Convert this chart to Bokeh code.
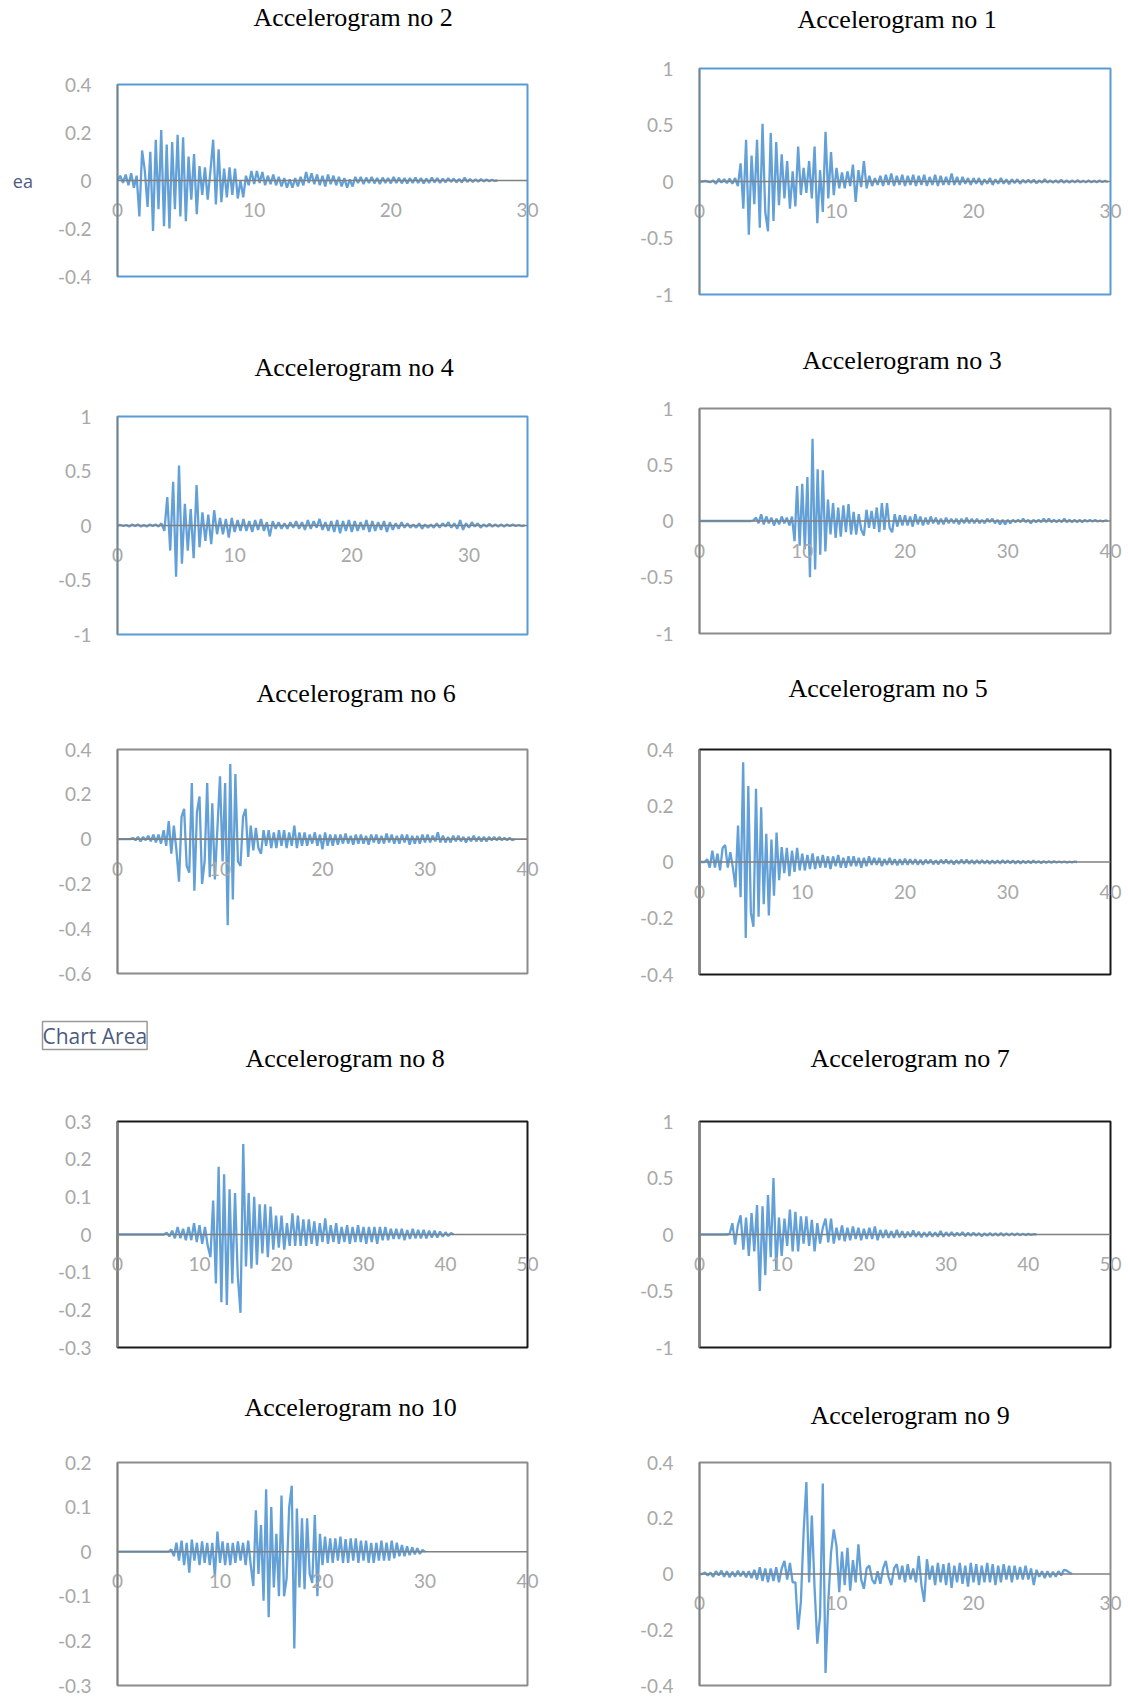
import numpy as np
from bokeh.plotting import figure
from bokeh.layouts import column, row
from bokeh.models import Range1d, FixedTicker, CustomJSTickFormatter, Span, Title
from bokeh.embed import file_html
from bokeh.resources import INLINE

# ---------------- data (acceleration in g, sampled every dt seconds) ----------------
dt_no2 = 0.2
acc_no2 = [0.0, 0.02, -0.01, 0.025, -0.02,
           0.03, -0.03, 0.02, -0.15, 0.125,
           0.04, -0.11, 0.12, -0.21, 0.17,
           -0.12, 0.21, -0.19, 0.15, -0.2,
           0.16, -0.12, 0.19, -0.15, 0.18,
           -0.17, 0.10, -0.08, 0.11, -0.14,
           0.06, -0.06, 0.055, -0.08, 0.04,
           0.17, -0.1, 0.13, -0.09, 0.05,
           -0.07, 0.055, -0.06, 0.05, -0.075,
           0.0, -0.07, 0.02, -0.02, 0.04,
           -0.015, 0.04, -0.01, 0.035, -0.02,
           0.02, -0.015, 0.025, -0.02, 0.015,
           -0.025, 0.01, -0.03, 0.005, -0.03,
           0.01, -0.025, 0.015, -0.02, 0.035,
           -0.01, 0.03, -0.015, 0.025, -0.02,
           0.02, -0.025, 0.025, -0.015, 0.02,
           -0.02, 0.015, -0.025, 0.01, -0.03,
           0.005, -0.025, 0.015, -0.01, 0.015,
           -0.015, 0.012, -0.01, 0.015, -0.012,
           0.01, -0.015, 0.012, -0.01, 0.01,
           -0.012, 0.015, -0.01, 0.012, -0.012,
           0.01, -0.012, 0.01, -0.01, 0.012,
           -0.01, 0.01, -0.012, 0.008, -0.01,
           0.012, -0.008, 0.01, -0.01, 0.008,
           -0.008, 0.01, -0.006, 0.008, -0.008,
           0.006, -0.008, 0.012, -0.006, 0.006,
           -0.006, 0.005, -0.005, 0.006, -0.004,
           0.004, -0.003, 0.003, -0.002, 0.0]

dt_no1 = 0.2
acc_no1 = [0.0, 0.0, 0.005, 0.0, -0.005,
           0.01, -0.02, 0.025, -0.01, 0.02,
           -0.015, 0.025, -0.02, 0.03, -0.04,
           0.16, -0.24, 0.37, -0.47, 0.23,
           -0.2, 0.37, -0.41, 0.51, -0.27,
           -0.44, 0.43, -0.35, 0.35, -0.21,
           0.24, -0.15, 0.18, -0.24, 0.09,
           -0.22, 0.31, -0.12, 0.12, -0.1,
           0.18, -0.15, 0.31, -0.37, 0.1,
           -0.27, 0.44, -0.15, 0.26, -0.12,
           0.12, -0.06, 0.08, -0.06, 0.09,
           -0.04, 0.15, -0.18, 0.1, -0.05,
           0.18, -0.06, 0.05, -0.04, 0.03,
           -0.03, 0.05, -0.04, 0.06, -0.03,
           0.07, -0.04, 0.05, -0.03, 0.06,
           -0.04, 0.05, -0.03, 0.06, -0.04,
           0.05, -0.03, 0.06, -0.04, 0.04,
           -0.03, 0.06, -0.04, 0.05, -0.03,
           0.04, -0.03, 0.07, -0.03, 0.04,
           -0.03, 0.04, -0.02, 0.03, -0.03,
           0.03, -0.02, 0.03, -0.03, 0.02,
           -0.02, 0.03, -0.03, 0.02, -0.02,
           0.03, -0.02, 0.02, -0.025, 0.02,
           -0.015, 0.02, -0.02, 0.015, -0.01,
           0.015, -0.01, 0.015, -0.015, 0.01,
           -0.01, 0.02, -0.01, 0.01, -0.01,
           0.01, -0.01, 0.015, -0.01, 0.01,
           -0.01, 0.01, -0.008, 0.012, -0.008,
           0.008, -0.008, 0.01, -0.006, 0.006,
           -0.006, 0.008, -0.005, 0.006, -0.004]

dt_no4 = 0.25
acc_no4 = [0.0, 0.005, -0.005, 0.005,
           -0.01, 0.01, -0.005, 0.01,
           -0.01, 0.005, -0.01, 0.01,
           -0.005, 0.01, -0.01, 0.02,
           -0.05, 0.26, -0.23, 0.4,
           -0.47, 0.55, -0.35, 0.2,
           -0.23, 0.15, -0.3, 0.37,
           -0.2, 0.12, -0.14, 0.1,
           -0.17, 0.14, -0.08, 0.07,
           -0.08, 0.06, -0.11, 0.07,
           -0.06, 0.05, -0.05, 0.06,
           -0.05, 0.04, -0.06, 0.05,
           -0.04, 0.06, -0.05, 0.03,
           -0.1, 0.04, -0.03, 0.03,
           -0.03, 0.02, -0.03, 0.03,
           -0.02, 0.04, -0.03, 0.03,
           -0.04, 0.05, -0.03, 0.04,
           -0.02, 0.06, -0.04, 0.03,
           -0.05, 0.04, -0.06, 0.05,
           -0.07, 0.04, -0.05, 0.05,
           -0.06, 0.04, -0.05, 0.03,
           -0.04, 0.05, -0.06, 0.04,
           -0.05, 0.03, -0.04, 0.04,
           -0.06, 0.03, -0.04, 0.02,
           -0.03, 0.03, -0.02, 0.02,
           -0.02, 0.01, -0.02, 0.02,
           -0.03, 0.01, -0.02, 0.01,
           -0.02, 0.02, -0.02, 0.02,
           -0.01, 0.03, -0.02, 0.02,
           -0.03, 0.05, -0.04, 0.02,
           -0.02, 0.03, -0.01, 0.02,
           -0.02, 0.01, -0.01, 0.015,
           -0.01, 0.01, -0.01, 0.01,
           -0.01, 0.01, -0.005, 0.01,
           -0.005, 0.005, -0.005, 0.0]

dt_no3 = 0.25
acc_no3 = [0.0, 0.0, 0.0, 0.0,
           0.0, 0.0, 0.0, 0.0,
           0.0, 0.0, 0.0, 0.0,
           0.0, 0.0, 0.0, 0.0,
           0.0, 0.0, 0.0, 0.0,
           0.0, 0.005, 0.03, -0.02,
           0.06, -0.03, 0.04, -0.02,
           0.03, -0.04, 0.02, -0.03,
           0.04, -0.02, 0.03, -0.04,
           0.04, -0.18, 0.31, -0.22,
           0.33, -0.25, 0.39, -0.5,
           0.73, -0.43, 0.46, -0.3,
           0.45, -0.27, 0.19, -0.12,
           0.16, -0.15, 0.12, -0.14,
           0.14, -0.1, 0.15, -0.12,
           0.08, -0.12, 0.06, -0.08,
           -0.13, 0.1, -0.06, 0.09,
           -0.07, 0.12, -0.1, 0.16,
           -0.08, 0.16, -0.06, -0.1,
           0.06, -0.05, 0.05, -0.04,
           0.05, -0.04, 0.04, -0.05,
           0.06, -0.03, 0.04, -0.04,
           0.03, -0.03, 0.04, -0.02,
           0.03, -0.03, 0.02, -0.03,
           0.03, -0.02, 0.02, -0.02,
           0.02, -0.03, 0.02, -0.02,
           0.03, -0.02, 0.02, -0.02,
           0.02, -0.02, 0.01, -0.02,
           0.02, -0.01, 0.02, -0.02,
           0.01, -0.03, 0.01, -0.03,
           0.01, -0.02, 0.01, -0.01,
           0.01, -0.01, 0.02, -0.01,
           0.01, -0.02, 0.01, -0.01,
           0.01, -0.01, 0.02, -0.01,
           0.02, -0.01, 0.01, -0.01,
           0.01, -0.01, 0.02, -0.01,
           0.01, -0.01, 0.01, -0.01,
           0.01, -0.01, 0.01, -0.005,
           0.01, -0.005, 0.01, -0.005,
           0.005, -0.005, 0.005, 0.0]

dt_no6 = 0.25
acc_no6 = [0.0, 0.0, 0.0, 0.0,
           0.0, 0.0, 0.005, -0.005,
           0.01, -0.01, 0.01, -0.005,
           0.015, -0.01, 0.02, -0.015,
           0.02, -0.02, 0.04, -0.03,
           0.08, -0.065, 0.06, -0.05,
           -0.19, 0.1, 0.135, -0.12,
           -0.15, 0.25, -0.23, 0.12,
           0.19, -0.2, -0.1, 0.25,
           -0.17, 0.16, -0.18, 0.05,
           0.28, -0.1, 0.25, -0.385,
           0.335, -0.27, 0.29, -0.1,
           -0.12, 0.1, 0.135, -0.08,
           0.06, -0.05, 0.05, -0.04,
           -0.065, 0.04, -0.03, 0.04,
           -0.04, 0.03, -0.04, 0.04,
           -0.03, 0.04, -0.04, 0.03,
           -0.03, 0.06, -0.04, 0.03,
           -0.03, 0.03, -0.03, 0.02,
           -0.02, 0.03, -0.03, 0.02,
           -0.045, 0.03, -0.03, 0.02,
           -0.03, 0.02, -0.025, 0.02,
           -0.02, 0.025, -0.02, 0.015,
           -0.025, 0.02, -0.02, 0.02,
           -0.02, 0.015, -0.025, 0.02,
           -0.015, 0.02, -0.02, 0.015,
           -0.02, 0.025, -0.015, 0.02,
           -0.02, 0.015, -0.02, 0.02,
           -0.015, 0.02, -0.025, 0.015,
           -0.02, 0.015, -0.02, 0.02,
           -0.015, 0.02, -0.015, 0.015,
           -0.01, 0.03, -0.015, 0.015,
           -0.015, 0.01, -0.015, 0.015,
           -0.01, 0.015, -0.01, 0.01,
           -0.015, 0.01, -0.01, 0.015,
           -0.01, 0.01, -0.01, 0.01,
           -0.01, 0.01, -0.005, 0.01,
           -0.005, 0.01, -0.005, 0.005,
           -0.005, 0.005, -0.005, 0.0]

dt_no5 = 0.25
acc_no5 = [0.0, 0.0, 0.0, 0.01,
           -0.02, 0.04, -0.02, 0.03,
           -0.03, 0.05, 0.06, -0.02,
           0.035, -0.02, -0.09, 0.13,
           -0.125, 0.355, -0.27, 0.27,
           -0.18, -0.23, 0.26, -0.195,
           0.195, -0.15, 0.1, -0.19,
           0.08, -0.12, 0.105, -0.065,
           0.053, -0.04, 0.05, -0.05,
           0.04, -0.035, 0.05, -0.03,
           0.03, -0.03, 0.025, -0.025,
           0.03, -0.025, 0.02, -0.02,
           0.025, -0.02, 0.02, -0.025,
           0.02, -0.015, 0.025, -0.02,
           0.015, -0.02, 0.02, -0.015,
           0.02, -0.015, 0.015, -0.02,
           0.015, -0.015, 0.02, -0.01,
           0.015, -0.01, 0.015, -0.015,
           0.01, -0.01, 0.015, -0.01,
           0.01, -0.012, 0.01, -0.01,
           0.012, -0.01, 0.01, -0.008,
           0.01, -0.01, 0.008, -0.01,
           0.008, -0.006, 0.008, -0.008,
           0.006, -0.008, 0.008, -0.006,
           0.008, -0.006, 0.006, -0.008,
           0.006, -0.006, 0.008, -0.006,
           0.008, -0.006, 0.006, -0.006,
           0.006, -0.005, 0.006, -0.005,
           0.005, -0.006, 0.005, -0.005,
           0.005, -0.005, 0.006, -0.004,
           0.005, -0.004, 0.005, -0.005,
           0.004, -0.005, 0.004, -0.004,
           0.004, -0.004, 0.005, -0.003,
           0.003, -0.004, 0.003, -0.003,
           0.003, -0.003, 0.003, -0.002,
           0.002, -0.002, 0.002, -0.002,
           0.001, -0.001, 0.001, 0.0]

dt_no8 = 1.0 / 3.0
acc_no8 = [0.0, 0.0, 0.0,
           0.0, 0.0, 0.0,
           0.0, 0.0, 0.0,
           0.0, 0.0, 0.0,
           0.0, 0.0, 0.0,
           0.0, 0.0, 0.0,
           0.005, -0.005, 0.01,
           -0.01, 0.02, -0.01,
           0.015, -0.015, 0.02,
           -0.015, 0.03, -0.02,
           0.025, -0.025, 0.02,
           -0.03, -0.06, 0.09,
           -0.13, 0.18, -0.18,
           0.16, -0.187, 0.12,
           -0.13, 0.11, -0.11,
           -0.208, 0.24, -0.085,
           0.11, -0.09, 0.1,
           -0.08, 0.08, -0.05,
           0.08, -0.06, 0.074,
           -0.04, 0.05, -0.035,
           0.05, -0.04, 0.03,
           -0.03, 0.056, -0.03,
           0.05, -0.03, 0.04,
           -0.03, 0.04, -0.025,
           0.035, -0.03, 0.03,
           -0.02, 0.043, -0.025,
           0.025, -0.02, 0.03,
           -0.025, 0.02, -0.02,
           0.025, -0.025, 0.02,
           -0.02, 0.025, -0.02,
           0.02, -0.025, 0.02,
           -0.02, 0.02, -0.025,
           0.02, -0.015, 0.02,
           -0.015, 0.015, -0.012,
           0.015, -0.012, 0.015,
           -0.015, 0.012, -0.012,
           0.015, -0.01, 0.012,
           -0.01, 0.012, -0.01,
           0.01, -0.008, 0.01,
           -0.008, 0.008, -0.006,
           0.006, -0.004, 0.004,
           0.0]

dt_no7 = 1.0 / 3.0
acc_no7 = [0.0, 0.0, 0.0,
           0.0, 0.0, 0.0,
           0.0, 0.0, 0.0,
           0.0, 0.0, 0.005,
           0.1, -0.09, 0.08,
           0.17, -0.135, 0.15,
           -0.19, 0.19, -0.15,
           0.26, -0.5, 0.25,
           -0.36, 0.35, -0.2,
           0.5, -0.31, 0.15,
           -0.19, 0.14, -0.1,
           0.22, -0.15, 0.2,
           -0.15, 0.16, -0.08,
           0.16, -0.1, 0.13,
           -0.15, 0.1, -0.08,
           0.06, 0.14, -0.07,
           0.14, -0.08, 0.06,
           -0.05, 0.08, -0.06,
           0.06, -0.05, 0.07,
           -0.04, 0.06, -0.05,
           0.05, -0.04, 0.06,
           -0.04, 0.07, -0.05,
           0.04, -0.03, 0.04,
           -0.03, 0.03, -0.03,
           0.04, -0.025, 0.03,
           -0.03, 0.025, -0.02,
           0.035, -0.02, 0.025,
           -0.025, 0.02, -0.02,
           0.025, -0.02, 0.02,
           -0.02, 0.03, -0.02,
           0.02, -0.015, 0.02,
           -0.015, 0.015, -0.01,
           0.02, -0.015, 0.015,
           -0.012, 0.015, -0.01,
           0.012, -0.015, 0.01,
           -0.01, 0.012, -0.01,
           0.01, -0.01, 0.012,
           -0.01, 0.01, -0.008,
           0.01, -0.006, 0.008,
           -0.006, 0.006, -0.005,
           0.005, -0.004, 0.003,
           0.0]

dt_no10 = 0.25
acc_no10 = [0.0, 0.0, 0.0, 0.0,
            0.0, 0.0, 0.0, 0.0,
            0.0, 0.0, 0.0, 0.0,
            0.0, 0.0, 0.0, 0.0,
            0.0, 0.0, 0.0, 0.0,
            0.0, 0.005, -0.01, 0.02,
            -0.02, 0.025, -0.03, 0.02,
            -0.047, 0.027, -0.02, 0.02,
            -0.03, 0.023, -0.025, 0.02,
            -0.03, 0.02, -0.055, 0.045,
            -0.025, 0.023, -0.03, 0.02,
            -0.03, 0.02, -0.025, 0.023,
            -0.02, 0.02, -0.03, 0.025,
            -0.03, -0.077, 0.093, -0.05,
            0.06, -0.11, 0.14, -0.147,
            0.1, -0.08, 0.04, -0.1,
            0.126, -0.1, -0.06, 0.1,
            0.148, -0.217, 0.097, -0.08,
            0.075, -0.084, 0.075, -0.05,
            -0.07, 0.082, -0.1, 0.04,
            -0.03, 0.034, -0.025, 0.03,
            -0.025, 0.03, -0.02, 0.034,
            -0.025, 0.028, -0.025, 0.03,
            -0.02, 0.03, -0.025, 0.025,
            -0.02, 0.025, -0.025, 0.02,
            -0.025, 0.02, -0.02, 0.025,
            -0.02, 0.02, -0.02, 0.025,
            -0.015, 0.02, -0.01, 0.015,
            -0.01, 0.012, -0.008, 0.01,
            -0.006, 0.008, -0.005, 0.004,
            0.0]

dt_no9 = 0.2
acc_no9 = [0.0, 0.0, 0.005, -0.005, 0.005,
           -0.01, 0.01, -0.005, 0.012, -0.01,
           0.01, -0.012, 0.008, -0.01, 0.012,
           -0.008, 0.01, -0.012, 0.01, -0.015,
           0.015, -0.02, 0.024, -0.025, 0.02,
           -0.03, 0.02, -0.025, 0.024, -0.03,
           0.02, 0.047, -0.02, 0.04, -0.03,
           -0.03, -0.2, -0.1, 0.15, 0.33,
           -0.03, 0.21, -0.05, -0.25, -0.15,
           0.325, -0.355, -0.1, 0.077, 0.16,
           0.1, -0.065, 0.08, -0.04, 0.094,
           -0.06, 0.05, -0.03, 0.106, -0.02,
           -0.053, 0.02, 0.03, -0.02, -0.035,
           0.01, -0.035, 0.02, 0.047, -0.01,
           -0.04, 0.02, 0.035, -0.02, 0.03,
           -0.03, 0.035, -0.02, 0.02, -0.03,
           0.065, -0.04, -0.1, 0.053, -0.02,
           0.03, -0.04, 0.04, -0.03, 0.035,
           -0.04, 0.04, -0.05, 0.03, -0.03,
           0.04, -0.035, 0.03, -0.045, 0.04,
           -0.03, 0.035, -0.04, 0.03, -0.03,
           0.04, -0.03, 0.035, -0.04, 0.03,
           -0.03, 0.035, -0.02, 0.03, -0.03,
           0.03, -0.02, 0.025, -0.02, 0.03,
           -0.02, 0.02, -0.04, 0.015, -0.01,
           0.01, -0.015, 0.01, -0.012, 0.008,
           -0.01, 0.01, -0.005, 0.015, 0.012,
           0.005, 0.0]

# axis ticks
ticks_x30 = [0, 10, 20, 30]
ticks_x40 = [0, 10, 20, 30, 40]
ticks_x50 = [0, 10, 20, 30, 40, 50]
ticks_y1 = [-1, -0.5, 0, 0.5, 1]
ticks_y04 = [-0.4, -0.2, 0, 0.2, 0.4]
ticks_y06 = [-0.6, -0.4, -0.2, 0, 0.2, 0.4]
ticks_y03 = [-0.3, -0.2, -0.1, 0, 0.1, 0.2, 0.3]
ticks_y10 = [-0.3, -0.2, -0.1, 0, 0.1, 0.2]

# ---------------- layout / style ----------------
W = 564
BOUNDS = [0, 335, 665, 1005, 1385, 1697]   # figure top edges of the 5 stacked rows
COL_X = [(117, 527), (699, 1110)]          # frame left / right (page px) for each column
BLUE = "#5B9BD5"
GREY = "#8C8C8C"
BLACK = "#1A1A1A"
TITLE_HALF = 15                            # half the height of a title slot (px)

panels = [
    dict(title="Accelerogram no 2", acc=acc_no2, dt=dt_no2, xr=(0, 30), xt=ticks_x30,
         yr=(-0.4, 0.4), yt=ticks_y04, outline=BLUE, row=0, col=0, tb=(84, 276), tleft=253, tcy=17),
    dict(title="Accelerogram no 1", acc=acc_no1, dt=dt_no1, xr=(0, 30), xt=ticks_x30,
         yr=(-1, 1), yt=ticks_y1, outline=BLUE, row=0, col=1, tb=(68, 294), tleft=797, tcy=19),
    dict(title="Accelerogram no 4", acc=acc_no4, dt=dt_no4, xr=(0, 35), xt=ticks_x30,
         yr=(-1, 1), yt=ticks_y1, outline=BLUE, row=1, col=0, tb=(416, 634), tleft=254, tcy=367),
    dict(title="Accelerogram no 3", acc=acc_no3, dt=dt_no3, xr=(0, 40), xt=ticks_x40,
         yr=(-1, 1), yt=ticks_y1, outline=GREY, row=1, col=1, tb=(408, 633), tleft=802, tcy=360),
    dict(title="Accelerogram no 6", acc=acc_no6, dt=dt_no6, xr=(0, 40), xt=ticks_x40,
         yr=(-0.6, 0.4), yt=ticks_y06, outline=GREY, row=2, col=0, tb=(749, 973), tleft=256, tcy=693),
    dict(title="Accelerogram no 5", acc=acc_no5, dt=dt_no5, xr=(0, 40), xt=ticks_x40,
         yr=(-0.4, 0.4), yt=ticks_y04, outline=BLACK, row=2, col=1, tb=(749, 974), tleft=788, tcy=688),
    dict(title="Accelerogram no 8", acc=acc_no8, dt=dt_no8, xr=(0, 50), xt=ticks_x50,
         yr=(-0.3, 0.3), yt=ticks_y03, outline=BLACK, row=3, col=0, tb=(1121, 1347), tleft=245, tcy=1058,
         tshrink=16),
    dict(title="Accelerogram no 7", acc=acc_no7, dt=dt_no7, xr=(0, 50), xt=ticks_x50,
         yr=(-1, 1), yt=ticks_y1, outline=BLACK, row=3, col=1, tb=(1121, 1347), tleft=810, tcy=1058),
    dict(title="Accelerogram no 10", acc=acc_no10, dt=dt_no10, xr=(0, 40), xt=ticks_x40,
         yr=(-0.3, 0.2), yt=ticks_y10, outline=GREY, row=4, col=0, tb=(1462, 1685), tleft=244, tcy=1407),
    dict(title="Accelerogram no 9", acc=acc_no9, dt=dt_no9, xr=(0, 30), xt=ticks_x30,
         yr=(-0.4, 0.4), yt=ticks_y04, outline=GREY, row=4, col=1, tb=(1462, 1685), tleft=810, tcy=1415),
]

TICK_FONT = "Lato"
TICK_COLOR = "#A8A8A8"
fmt_code = "return String(tick);"


def make_panel(spec):
    rtop, rbot = BOUNDS[spec["row"]], BOUNDS[spec["row"] + 1]
    fx = spec["col"] * W
    l, r = COL_X[spec["col"]]
    t, b = spec["tb"]
    y0, y1 = spec["yr"]
    p = figure(width=W, height=rbot - rtop, title=None,
               x_range=Range1d(*spec["xr"]), y_range=Range1d(y0, y1),
               output_backend="svg", toolbar_location=None,
               min_border_left=l - fx, min_border_right=fx + W - r,
               min_border_top=t - rtop, min_border_bottom=rbot - b)
    p.xgrid.visible = False
    p.ygrid.visible = False
    p.background_fill_color = "white"
    p.border_fill_color = "white"
    p.outline_line_color = spec["outline"]
    p.outline_line_width = 2

    acc = np.array(spec["acc"], dtype=float)
    tt = np.arange(len(acc)) * spec["dt"]
    p.line(tt, acc, line_color=BLUE, line_width=2.3, line_alpha=0.95)

    p.add_layout(Span(location=0, dimension="width", line_color="#808080", line_width=1.6))

    # x tick labels sit just under the zero line (axis crosses at 0)
    zero_px = t + y1 / (y1 - y0) * (b - t)
    xa = p.xaxis[0]
    xa.ticker = FixedTicker(ticks=spec["xt"])
    xa.formatter = CustomJSTickFormatter(code=fmt_code)
    xa.axis_line_color = None
    xa.major_tick_line_color = None
    xa.minor_tick_line_color = None
    xa.major_label_text_font = TICK_FONT
    xa.major_label_text_font_size = "19px"
    xa.major_label_text_color = TICK_COLOR
    xa.major_label_standoff = int(round(16 - (b - zero_px)))

    ya = p.yaxis[0]
    ya.ticker = FixedTicker(ticks=spec["yt"])
    ya.formatter = CustomJSTickFormatter(code=fmt_code)
    ya.axis_line_color = "#808080"
    ya.axis_line_width = 1.6
    ya.major_tick_line_color = None
    ya.minor_tick_line_color = None
    ya.major_label_text_font = TICK_FONT
    ya.major_label_text_font_size = "19px"
    ya.major_label_text_color = TICK_COLOR
    ya.major_label_standoff = 20

    # blank slot between the frame and the title, then the title itself
    shrink = spec.get("tshrink", 0)
    gap = max(0, int(round(t - spec["tcy"] - TITLE_HALF - 3 + shrink / 2)))
    p.add_layout(Title(text=" ", text_font_size="1px", standoff=gap), "above")
    p.add_layout(Title(text=spec["title"], align="left", offset=spec["tleft"] - l,
                       text_font="Liberation Serif", text_font_size="26px",
                       text_font_style="normal", text_color="black",
                       vertical_align="middle", standoff=-shrink), "above")
    return p


figs = {}
for spec in panels:
    figs[spec["title"]] = make_panel(spec)

# leftover Excel UI tooltips visible in the source picture
p = figs["Accelerogram no 2"]
p.yaxis[0].axis_label = "ea"
p.yaxis[0].axis_label_orientation = "horizontal"
p.yaxis[0].axis_label_text_font = "Open Sans"
p.yaxis[0].axis_label_text_font_size = "18px"
p.yaxis[0].axis_label_text_font_style = "normal"
p.yaxis[0].axis_label_text_color = "#4E5A7E"
p.yaxis[0].axis_label_standoff = 22

p = figs["Accelerogram no 8"]
p.add_layout(Title(text="Chart Area", align="left", offset=42 - COL_X[0][0],
                   text_font="Open Sans", text_font_size="21px",
                   text_font_style="normal", text_color="#4E5A7E",
                   vertical_align="middle", standoff=0,
                   border_line_color="#9A9A9A", border_line_width=1.5,
                   background_fill_color="white"), "above")

left_col = column(*[figs[s["title"]] for s in panels if s["col"] == 0])
right_col = column(*[figs[s["title"]] for s in panels if s["col"] == 1])
layout = row(left_col, right_col)

with open("out.html", "w") as f:
    f.write(file_html(layout, INLINE))
